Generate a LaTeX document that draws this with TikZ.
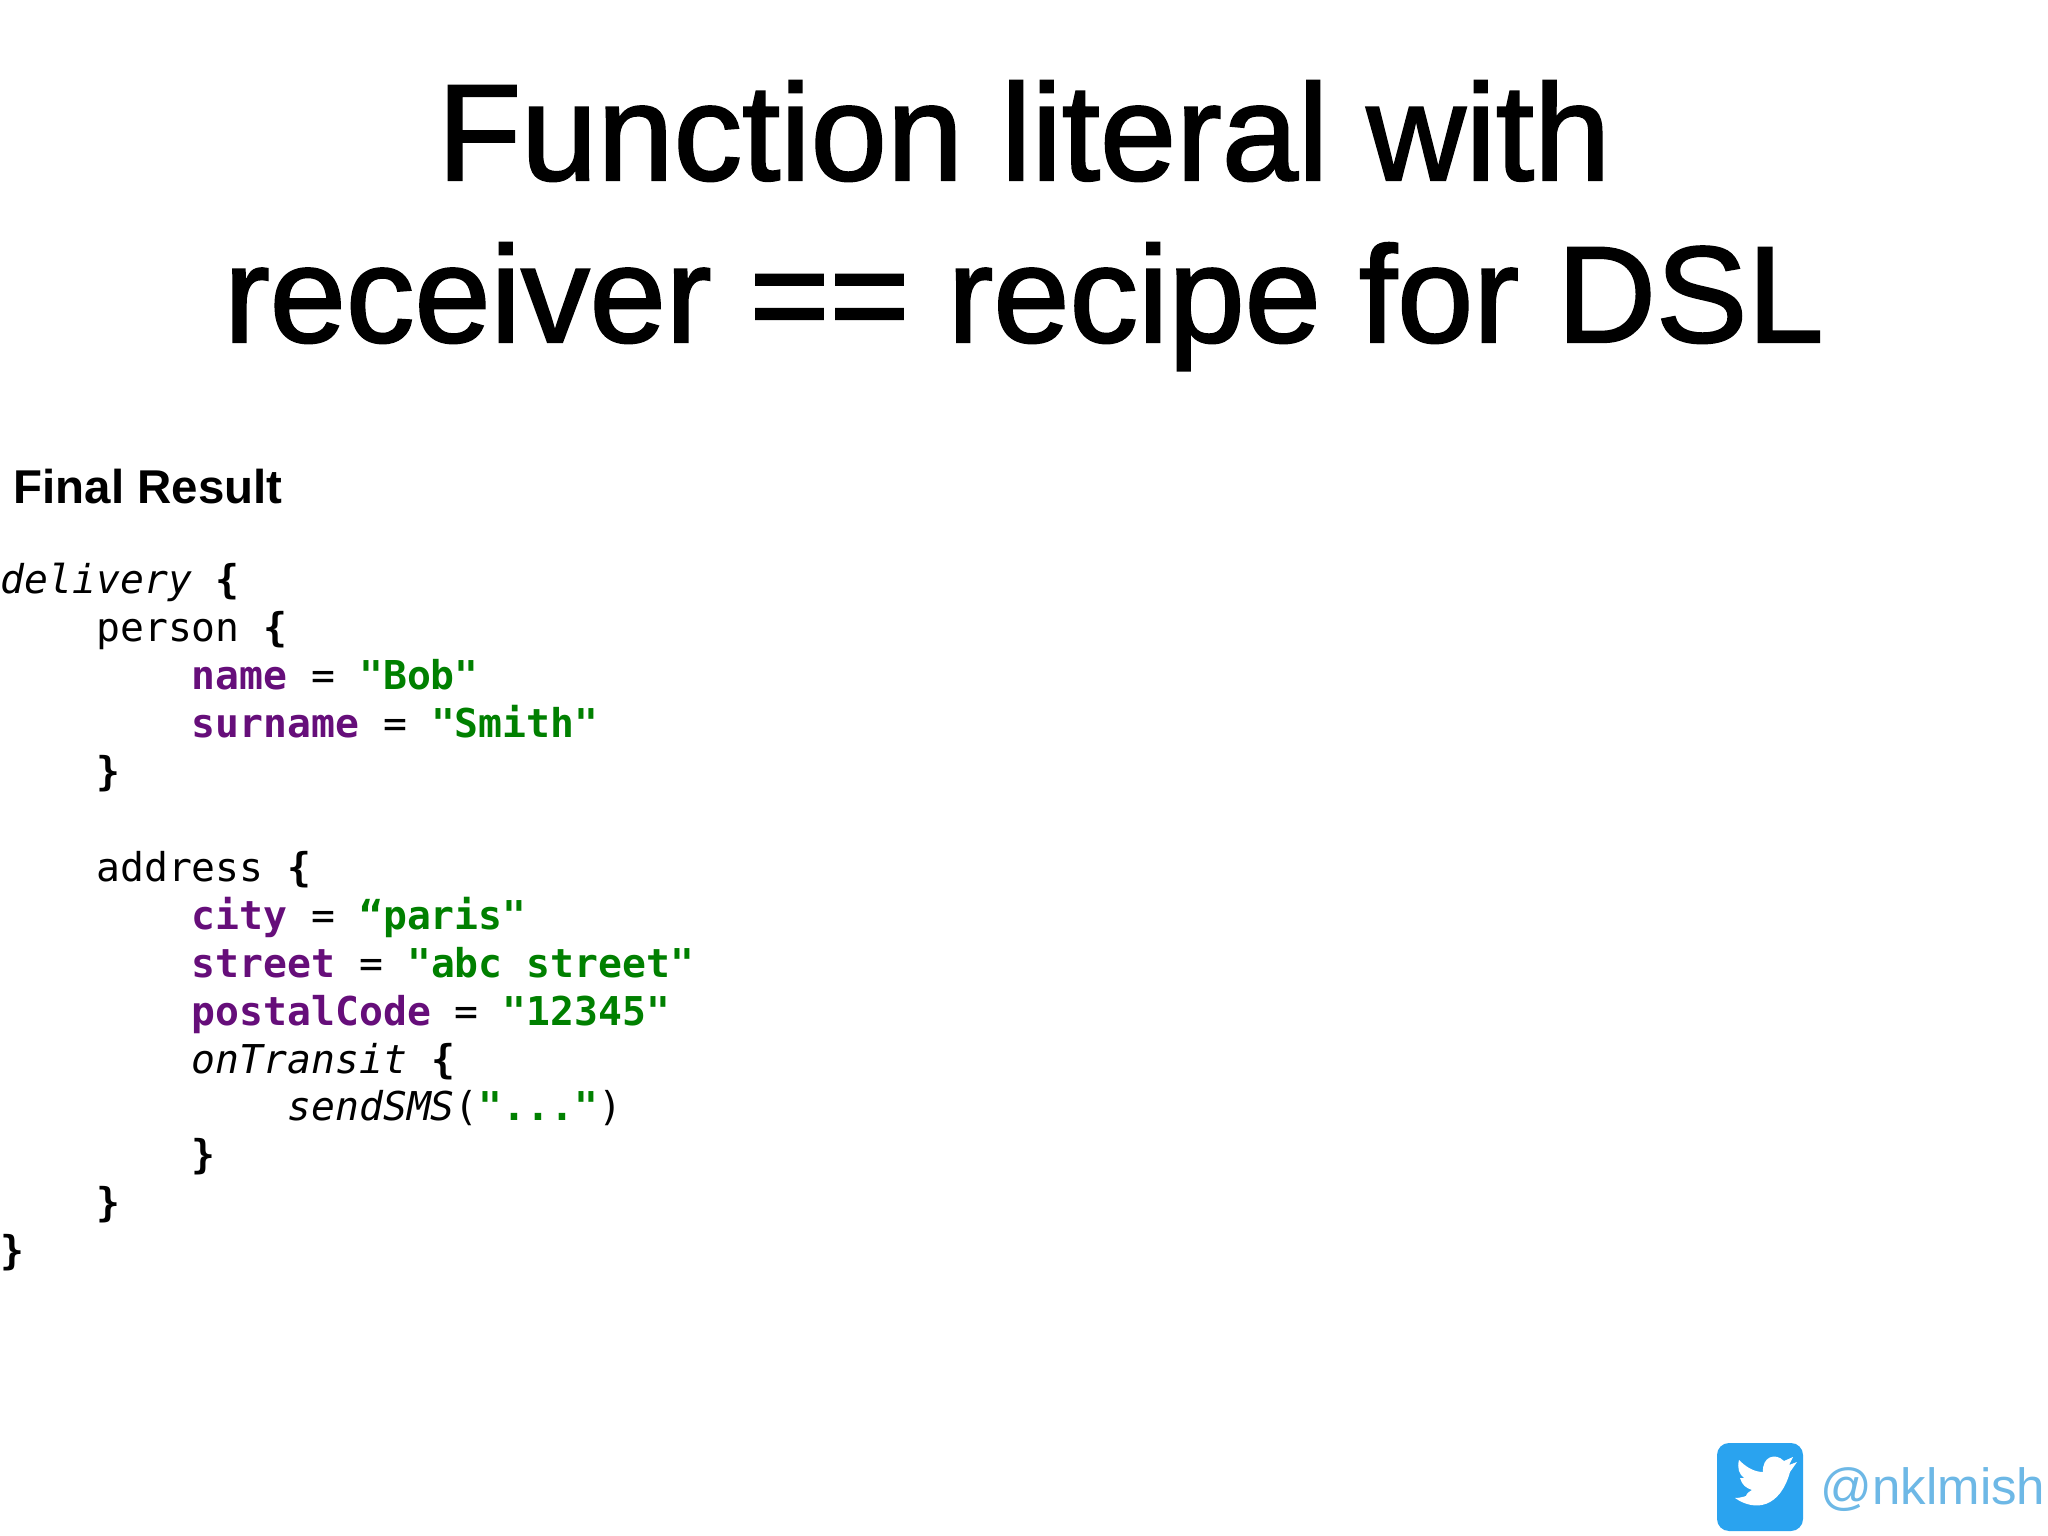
\documentclass[tikz,border=0pt]{standalone}
\usepackage{fontspec}
\setmainfont{Liberation Sans}
\setmonofont{DejaVu Sans Mono}
\newfontfamily\titlefont[FakeBold=1.6]{Liberation Sans}
\definecolor{kprop}{HTML}{660E7A}
\definecolor{kstr}{HTML}{008000}
\definecolor{tw}{HTML}{2AA3EF}
\definecolor{twt}{HTML}{6DB8E6}
\newcommand{\kp}[1]{\textcolor{kprop}{\textbf{#1}}}
\newcommand{\ks}[1]{\textcolor{kstr}{\textbf{#1}}}
\begin{document}
\begin{tikzpicture}[x=1cm,y=1cm,
  title/.style={font=\fontsize{39}{39}\selectfont\titlefont, anchor=base},
  codeline/.style={anchor=base west, inner sep=0pt, font=\fontsize{11.3}{11.3}\selectfont\ttfamily}]
\useasboundingbox (0,0) rectangle (20.48,-15.36);
\fill[white] (0,0) rectangle (20.48,-15.36);
\node[title] (t1) at (10.24,-1.8) {Function literal with};
\node[title] (t2) at (10.24,-3.42) {receiver == recipe for DSL};
\node[anchor=base west, inner sep=0pt, font=\fontsize{13.5}{13.5}\selectfont\bfseries] (fr) at (0.13,-5.04) {Final Result};
\def\cw{0.239}
\def\lh{0.479}
\def\yb{-5.94}
\foreach \i/\ind/\txt [count=\k] in {
 0/0/{\textit{delivery} \textbf{\{}},
 1/4/{person \textbf{\{}},
 2/8/{\kp{name} = \ks{"Bob"}},
 3/8/{\kp{surname} = \ks{"Smith"}},
 4/4/{\textbf{\}}},
 6/4/{address \textbf{\{}},
 7/8/{\kp{city} = \ks{“paris"}},
 8/8/{\kp{street} = \ks{"abc street"}},
 9/8/{\kp{postalCode} = \ks{"12345"}},
 10/8/{\textit{onTransit} \textbf{\{}},
 11/12/{\textit{sendSMS}(\ks{"..."})},
 12/8/{\textbf{\}}},
 13/4/{\textbf{\}}},
 14/0/{\textbf{\}}}}
  \node[codeline] (c\k) at ({\ind*\cw},{\yb-\i*\lh}) {\txt};
\fill[tw, rounded corners=0.12cm] (17.17,-14.43) rectangle (18.03,-15.31);
\fill[white] (17.35,-14.98) .. controls (17.55,-15.12) and (17.8,-15.08) .. (17.9,-14.72)
  -- (17.97,-14.62) -- (17.89,-14.65) -- (17.93,-14.57) -- (17.84,-14.61)
  .. controls (17.75,-14.52) and (17.62,-14.57) .. (17.63,-14.72)
  .. controls (17.53,-14.72) and (17.45,-14.66) .. (17.39,-14.6)
  .. controls (17.37,-14.68) and (17.39,-14.74) .. (17.44,-14.78)
  -- (17.4,-14.78) .. controls (17.42,-14.85) and (17.46,-14.88) .. (17.52,-14.9)
  .. controls (17.48,-14.92) and (17.46,-14.95) .. (17.46,-14.96)
  .. controls (17.43,-14.97) and (17.39,-14.98) .. (17.35,-14.98) -- cycle;
\node[anchor=base west, inner sep=0pt, text=twt, font=\fontsize{14.5}{14.5}\selectfont] (tw) at (18.2,-15.04) {@nklmish};
\end{tikzpicture}
\end{document}
